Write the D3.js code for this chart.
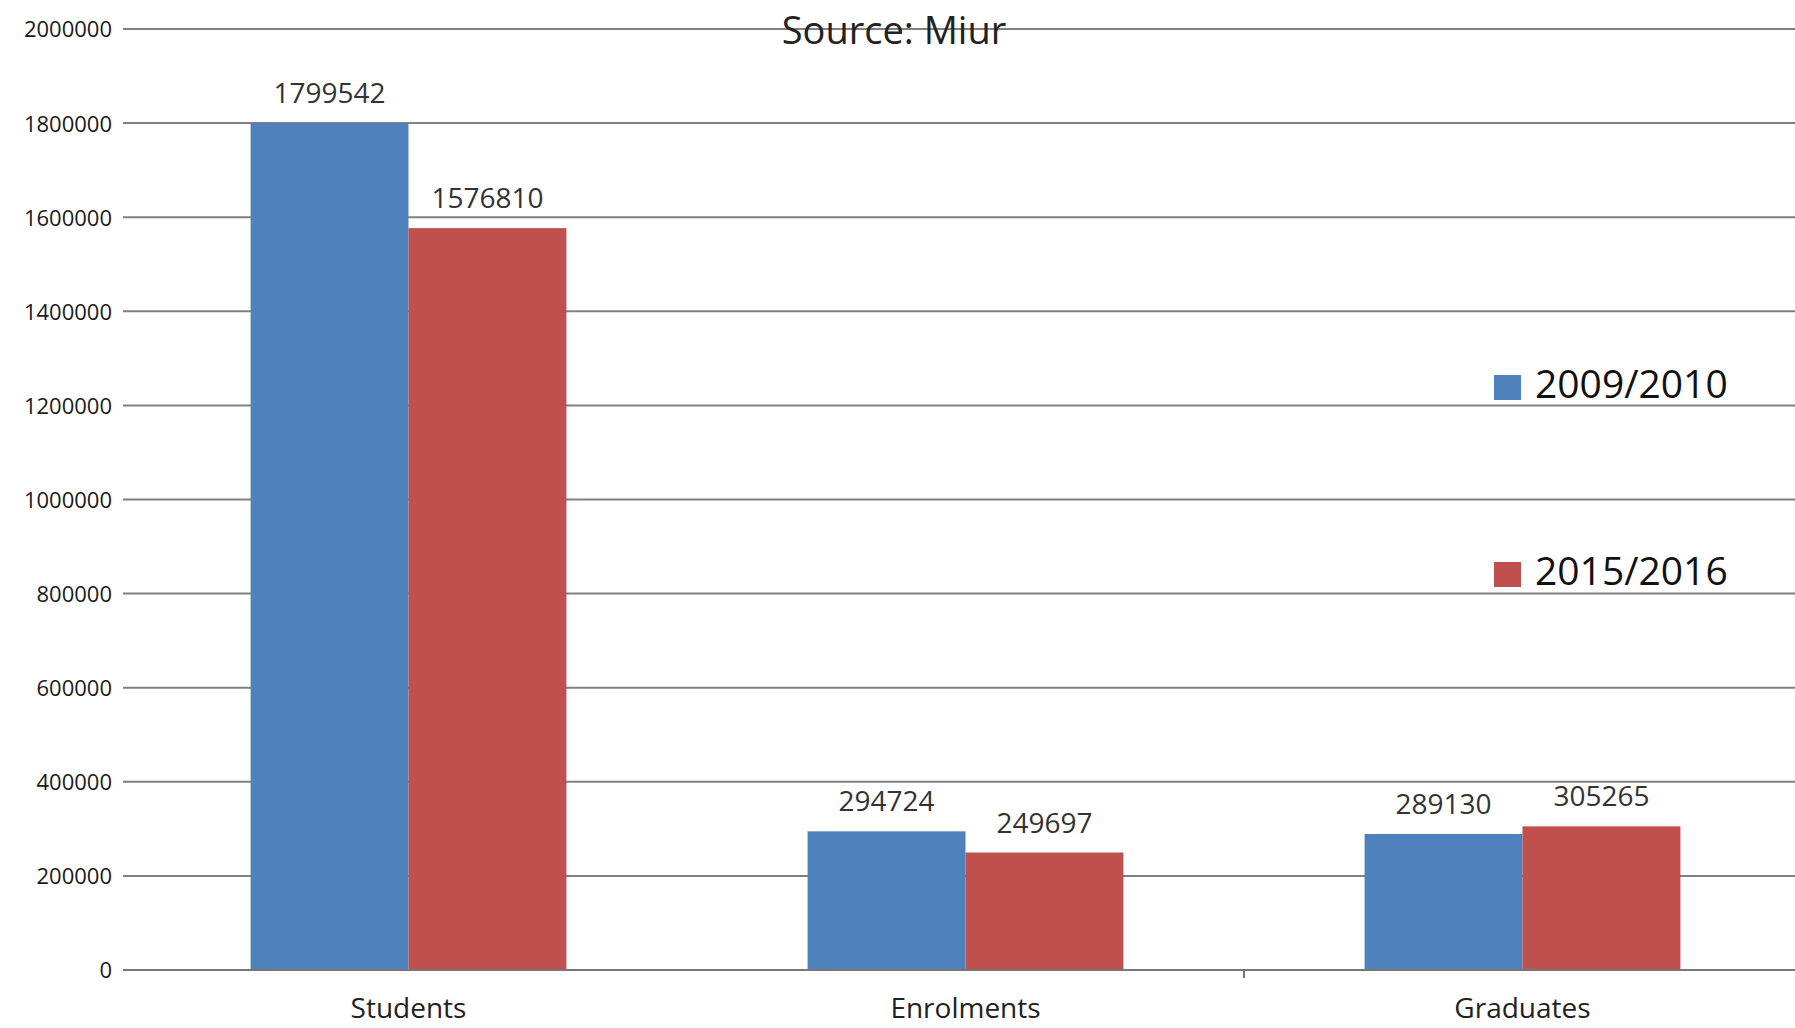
<!DOCTYPE html>
<html>
<head>
<meta charset="utf-8">
<script src="https://cdn.jsdelivr.net/npm/d3@7"></script>
<style>
  html, body { margin: 0; padding: 0; background: #fff; }
  svg { display: block; font-family: "Open Sans", "Noto Sans", sans-serif; }
</style>
</head>
<body>
<svg id="chart" width="1795" height="1028"></svg>
<script>
// University figures, Italy (source: Miur)
const categories = ["Students", "Enrolments", "Graduates"];
const seriesNames = ["2009/2010", "2015/2016"];
const values2009 = [1799542, 294724, 289130];
const values2015 = [1576810, 249697, 305265];
const yTicks = [0, 200000, 400000, 600000, 800000, 1000000, 1200000, 1400000, 1600000, 1800000, 2000000];
const colors = ["#4F81BD", "#C0504D"];

const svg = d3.select("#chart");
const plot = { left: 123, right: 1795, top: 29, bottom: 970 };

const y = d3.scaleLinear().domain([0, 2000000]).range([plot.bottom, plot.top]);

const x0 = d3.scaleBand()
  .domain(categories)
  .range([130, 1801])
  .paddingInner(0.433)
  .paddingOuter(0.2165);

const x1 = d3.scaleBand()
  .domain(seriesNames)
  .range([0, x0.bandwidth()]);

const rows = categories.map((c, i) => ({
  category: c,
  items: [
    { series: seriesNames[0], value: values2009[i] },
    { series: seriesNames[1], value: values2015[i] }
  ]
}));

// horizontal gridlines
svg.append("g")
  .selectAll("line")
  .data(yTicks.filter(t => t > 0))
  .join("line")
  .attr("x1", plot.left).attr("x2", plot.right)
  .attr("y1", d => y(d)).attr("y2", d => y(d))
  .attr("stroke", "#808080")
  .attr("stroke-width", 2);

// y axis labels
const yAxis = d3.axisLeft(y).tickValues(yTicks).tickSize(0).tickPadding(0).tickFormat(d3.format("d"));
const yg = svg.append("g").attr("transform", `translate(112,0)`).call(yAxis);
yg.select(".domain").remove();
yg.selectAll("text")
  .attr("font-size", 22)
  .attr("fill", "#1a1a1a")
  .attr("font-family", "'Open Sans', sans-serif")
  .attr("dy", "0.36em");

// bars
const groups = svg.append("g")
  .selectAll("g")
  .data(rows)
  .join("g")
  .attr("transform", d => `translate(${x0(d.category)},0)`);

groups.selectAll("rect")
  .data(d => d.items)
  .join("rect")
  .attr("x", d => x1(d.series))
  .attr("width", x1.bandwidth())
  .attr("y", d => y(d.value))
  .attr("height", d => y(0) - y(d.value))
  .attr("fill", (d, i) => colors[i]);

// value labels
groups.selectAll("text")
  .data(d => d.items)
  .join("text")
  .attr("x", d => x1(d.series) + x1.bandwidth() / 2)
  .attr("y", d => y(d.value) - 20)
  .attr("text-anchor", "middle")
  .attr("font-size", 28)
  .attr("fill", "#333")
  .text(d => d.value);

// category axis
svg.append("line")
  .attr("x1", plot.left).attr("x2", plot.right)
  .attr("y1", y(0)).attr("y2", y(0))
  .attr("stroke", "#777").attr("stroke-width", 2);

const xAxis = d3.axisBottom(x0).tickSize(0).tickPadding(0);
const xg = svg.append("g").attr("transform", `translate(0,${y(0)})`).call(xAxis);
xg.select(".domain").remove();
xg.selectAll("text")
  .attr("font-size", 28)
  .attr("fill", "#222")
  .attr("font-family", "'Open Sans', sans-serif")
  .attr("dy", 0)
  .attr("y", 48);

// tick between the last two categories
svg.append("g")
  .selectAll("line")
  .data(categories.slice(2))
  .join("line")
  .attr("x1", d => x0(d) - x0.step() * 0.433 / 2)
  .attr("x2", d => x0(d) - x0.step() * 0.433 / 2)
  .attr("y1", y(0)).attr("y2", y(0) + 8)
  .attr("stroke", "#777").attr("stroke-width", 2);

// subtitle
svg.append("text")
  .attr("x", 894).attr("y", 44)
  .attr("text-anchor", "middle")
  .attr("font-size", 38)
  .attr("fill", "#222")
  .text("Source: Miur");

// legend
const legend = svg.append("g")
  .selectAll("g")
  .data(seriesNames)
  .join("g")
  .attr("transform", (d, i) => `translate(1494,${375 + i * 187})`);

legend.append("rect")
  .attr("width", 27).attr("height", 25)
  .attr("fill", (d, i) => colors[i]);

legend.append("text")
  .attr("x", 41).attr("y", 23)
  .attr("font-size", 39)
  .attr("fill", "#111")
  .text(d => d);
</script>
</body>
</html>
